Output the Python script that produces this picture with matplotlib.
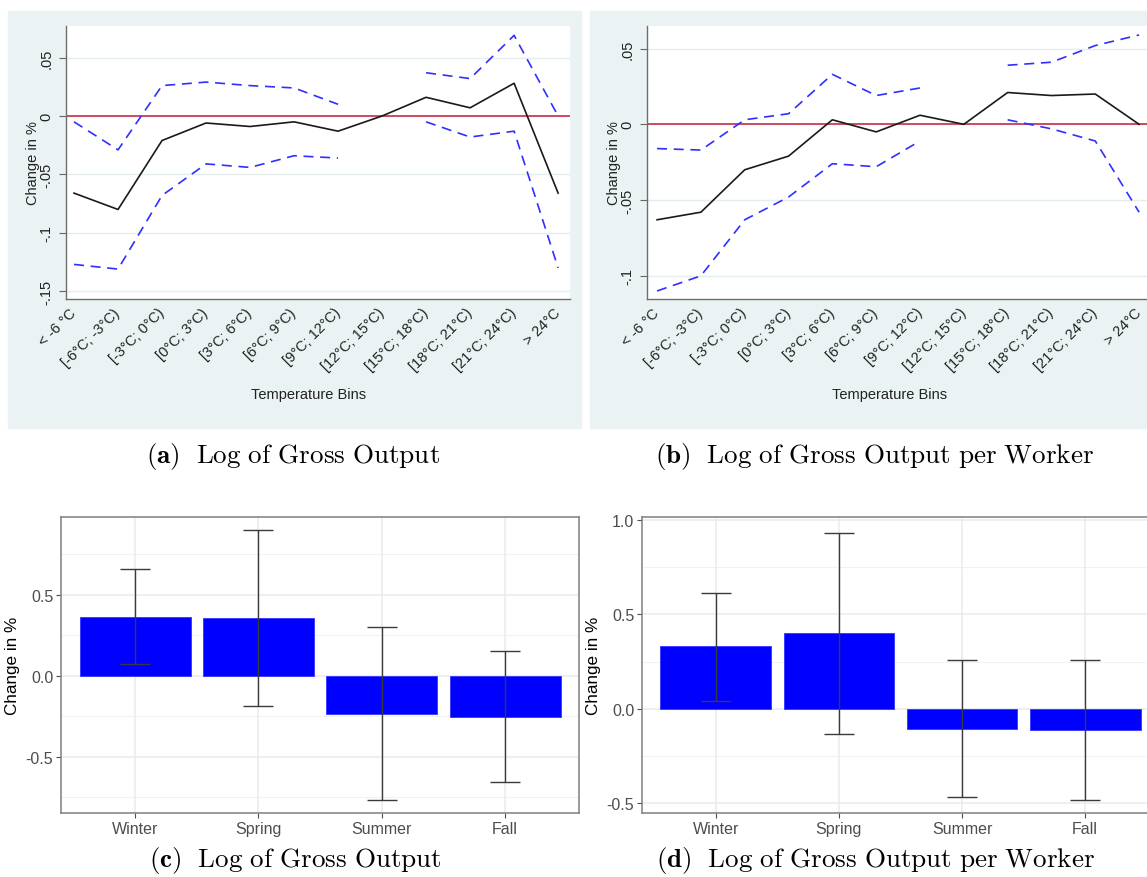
import matplotlib.pyplot as plt
from matplotlib.patches import Rectangle
import numpy as np

bins = ["< -6 °C", "[-6°C; -3°C)", "[-3°C; 0°C)", "[0°C; 3°C)", "[3°C; 6°C)",
        "[6°C; 9°C)", "[9°C; 12°C)", "[12°C; 15°C)", "[15°C; 18°C)",
        "[18°C; 21°C)", "[21°C; 24°C)", "> 24°C"]

# (a) log of gross output
gross_est = [-0.066, -0.080, -0.021, -0.006, -0.009, -0.005, -0.013, 0.0, 0.016, 0.007, 0.028, -0.066]
gross_hi = [-0.005, -0.029, 0.026, 0.029, 0.026, 0.024, 0.010, np.nan, 0.037, 0.032, 0.069, 0.0]
gross_lo = [-0.127, -0.131, -0.068, -0.041, -0.044, -0.034, -0.036, np.nan, -0.005, -0.018, -0.013, -0.130]

# (b) log of gross output per worker
worker_est = [-0.063, -0.058, -0.030, -0.021, 0.003, -0.005, 0.006, 0.0, 0.021, 0.019, 0.020, 0.0]
worker_hi = [-0.016, -0.017, 0.003, 0.007, 0.033, 0.019, 0.024, np.nan, 0.039, 0.041, 0.052, 0.059]
worker_lo = [-0.110, -0.100, -0.063, -0.048, -0.026, -0.028, -0.011, np.nan, 0.003, -0.003, -0.011, -0.058]

seasons = ["Winter", "Spring", "Summer", "Fall"]
# (c)
season_gross = [0.364, 0.358, -0.235, -0.253]
season_gross_hi = [0.659, 0.895, 0.300, 0.152]
season_gross_lo = [0.070, -0.187, -0.765, -0.656]
# (d)
season_worker = [0.330, 0.400, -0.107, -0.113]
season_worker_hi = [0.610, 0.932, 0.258, 0.258]
season_worker_lo = [0.042, -0.132, -0.468, -0.484]

W, H = 1147, 878
plt.rcParams['font.family'] = ['Liberation Sans', 'DejaVu Sans']
plt.rcParams['mathtext.fontset'] = 'cm'
fig = plt.figure(figsize=(W / 100, H / 100), dpi=100)


def box(l, t, r, b):
    return [l / W, 1 - b / H, (r - l) / W, (b - t) / H]


stata_bg = '#eaf2f3'
for l, t, r, b in [(8, 12, 581, 429), (590, 12, 1147, 429)]:
    fig.patches.append(Rectangle((l / W, 1 - b / H), (r - l) / W, (b - t) / H,
                                 transform=fig.transFigure, color=stata_bg, zorder=-10))


def stata_panel(rect, est, hi, lo, ylim, yticks, ylabels, xlim, ylab_x, xlab_x):
    ax = fig.add_axes(rect)
    ax.set_facecolor('white')
    x = np.arange(1, len(bins) + 1)
    for yt in yticks:
        ax.axhline(yt, color='#e4eeef', lw=1.0, zorder=1)
    ax.axhline(0, color='#cc4a64', lw=1.4, zorder=2)
    ax.plot(x, est, color='#1a1a1a', lw=1.2, zorder=3)
    ax.plot(x, hi, color='#2f2fff', lw=1.2, ls=(0, (6, 4)), zorder=3)
    ax.plot(x, lo, color='#2f2fff', lw=1.2, ls=(0, (6, 4)), zorder=3)
    ax.set_xlim(*xlim)
    ax.set_ylim(*ylim)
    ax.set_yticks(yticks)
    ax.set_yticklabels(ylabels, rotation=90, va='center', fontsize=10.5, color='#222222')
    ax.set_xticks(x)
    ax.set_xticklabels(bins, rotation=45, ha='right', va='center', rotation_mode='anchor',
                       fontsize=10.5, color='#222222')
    ax.tick_params(axis='y', length=5, color='#666666', pad=4)
    ax.tick_params(axis='x', length=0, pad=8)
    for s in ['top', 'right']:
        ax.spines[s].set_visible(False)
    for s in ['left', 'bottom']:
        ax.spines[s].set_color('#6e6e6e')
        ax.spines[s].set_linewidth(1.0)
    fig.text(ylab_x / W, 1 - 163 / H, "Change in %", rotation=90, ha='center', va='center',
             fontsize=10.5, color='#222222')
    fig.text(xlab_x / W, 1 - 395 / H, "Temperature Bins", ha='center', va='center',
             fontsize=10.5, color='#222222')
    return ax


stata_panel(box(66, 27, 570, 300), gross_est, gross_hi, gross_lo,
            (-0.1566, 0.077), [0.05, 0, -0.05, -0.1, -0.15], ['.05', '0', '-.05', '-.1', '-.15'],
            (0.818, 12.27), 33, 309)
stata_panel(box(647, 27, 1147, 300), worker_est, worker_hi, worker_lo,
            (-0.1153, 0.0649), [0.05, 0, -0.05, -0.1], ['.05', '0', '-.05', '-.1'],
            (0.77, 12.18), 614, 890)


def gg_panel(rect, vals, hi, lo, ylim, yticks, minor):
    ax = fig.add_axes(rect)
    x = np.arange(1, len(seasons) + 1)
    for m in minor:
        ax.axhline(m, color='#f2f2f2', lw=0.8, zorder=0)
    for yt in yticks:
        ax.axhline(yt, color='#ebebeb', lw=1.1, zorder=0)
    for xt in x:
        ax.axvline(xt, color='#ebebeb', lw=1.1, zorder=0)
    ax.bar(x, vals, width=0.9, color='#0000ff', edgecolor='#3333ff', lw=0.6, zorder=2)
    err = [np.array(vals) - np.array(lo), np.array(hi) - np.array(vals)]
    ax.errorbar(x, vals, yerr=err, fmt='none', ecolor='#3a3a3a', elinewidth=1.0,
                capsize=11, capthick=1.0, zorder=3)
    ax.set_xlim(0.4, 4.6)
    ax.set_ylim(*ylim)
    ax.set_yticks(yticks)
    ax.set_yticklabels([f'{v:.1f}' for v in yticks], fontsize=11.5, color='#4d4d4d')
    ax.set_xticks(x)
    ax.set_xticklabels(seasons, fontsize=11.5, color='#4d4d4d')
    ax.tick_params(length=3.5, color='#4d4d4d', pad=2)
    for s in ax.spines.values():
        s.set_color('#7f7f7f')
        s.set_linewidth(1.1)
    ax.set_ylabel("Change in %", fontsize=12.3, color='black', labelpad=4)
    return ax


gg_panel(box(61, 518, 579, 814), season_gross, season_gross_hi, season_gross_lo,
         (-0.846, 0.978), [-0.5, 0.0, 0.5], [-0.75, -0.25, 0.25, 0.75])
gg_panel(box(642, 518, 1159, 814), season_worker, season_worker_hi, season_worker_lo,
         (-0.551, 1.014), [-0.5, 0.0, 0.5, 1.0], [-0.25, 0.25, 0.75])

caps = [(293, 456, r'$\mathbf{(a)}\ \ \mathrm{Log\ of\ Gross\ Output}$'),
        (875, 456, r'$\mathbf{(b)}\ \ \mathrm{Log\ of\ Gross\ Output\ per\ Worker}$'),
        (295, 861, r'$\mathbf{(c)}\ \ \mathrm{Log\ of\ Gross\ Output}$'),
        (876, 861, r'$\mathbf{(d)}\ \ \mathrm{Log\ of\ Gross\ Output\ per\ Worker}$')]
for cx, cy, s in caps:
    fig.text(cx / W, 1 - cy / H, s, ha='center', va='center', fontsize=19.5)

fig.savefig('out.png', dpi=100)
